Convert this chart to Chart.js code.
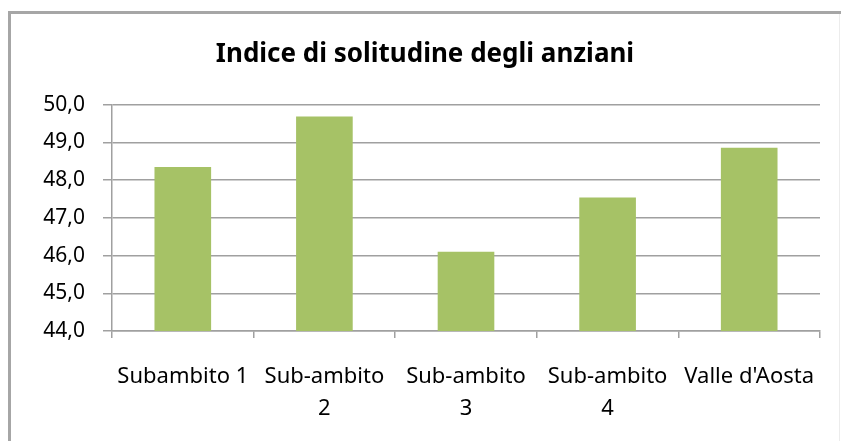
<!DOCTYPE html>
<html>
<head>
<meta charset="utf-8">
<script src="https://cdn.jsdelivr.net/npm/chart.js@4"></script>
<style>
  html, body { margin: 0; padding: 0; background: #fff; }
  #wrap { width: 841px; height: 441px; position: relative; }
</style>
</head>
<body>
<div id="wrap"><canvas id="chart" width="841" height="441"></canvas></div>
<script>
/* ---------------------------
    DATA
------------------------------ */
const categories = [
  "Subambito 1",
  ["Sub-ambito", "2"],
  ["Sub-ambito", "3"],
  ["Sub-ambito", "4"],
  "Valle d'Aosta"
];
const values = [48.35, 49.69, 46.1, 47.54, 48.86];
const yTicks = [44, 45, 46, 47, 48, 49, 50];

const FONT = "'Noto Sans', sans-serif";

/* ---------------------------
    FRAME (bordo grigio)
------------------------------ */
const framePlugin = {
  id: "frame",
  beforeDraw(chart) {
    const ctx = chart.ctx;
    ctx.save();
    ctx.fillStyle = "#ffffff";
    ctx.fillRect(0, 0, chart.width, chart.height);
    ctx.strokeStyle = "#a6a6a6";
    ctx.lineWidth = 3;
    ctx.beginPath();
    ctx.moveTo(9.5, chart.height);
    ctx.lineTo(9.5, 12.5);
    ctx.lineTo(chart.width, 12.5);
    ctx.stroke();
    ctx.strokeStyle = "#ececec";
    ctx.lineWidth = 1;
    ctx.beginPath();
    ctx.moveTo(839.5, 14);
    ctx.lineTo(839.5, chart.height);
    ctx.stroke();
    ctx.restore();
  }
};

new Chart(document.getElementById("chart"), {
  type: "bar",
  data: {
    labels: categories,
    datasets: [{
      label: "Indice di solitudine degli anziani",
      data: values,
      backgroundColor: "#a6c266",
      barPercentage: 0.4,
      categoryPercentage: 1.0
    }]
  },
  options: {
    responsive: false,
    animation: false,
    layout: { padding: { top: 14, left: 30, right: 21, bottom: 0 } },
    plugins: {
      legend: { display: false },
      tooltip: { enabled: false },
      title: {
        display: true,
        text: "Indice di solitudine degli anziani",
        color: "#000",
        font: { family: FONT, size: 26, weight: "bold", lineHeight: 1.2 },
        padding: { top: 25, bottom: 34.5 }
      }
    },
    scales: {
      x: {
        grid: {
          display: true,
          offset: true,
          drawOnChartArea: false,
          tickLength: 7,
          color: "#a0a0a0",
          lineWidth: 1.5
        },
        border: { color: "#a0a0a0", width: 1.5 },
        ticks: {
          color: "#000",
          font: { family: FONT, size: 22, lineHeight: 32 / 22 },
          padding: 23,
          maxRotation: 0,
          autoSkip: false
        },
        afterFit(scale) { scale.height = 110; }
      },
      y: {
        min: yTicks[0],
        max: yTicks[yTicks.length - 1],
        afterBuildTicks(scale) { scale.ticks = yTicks.map(v => ({ value: v })); },
        grid: { color: "#a0a0a0", lineWidth: 1.5, tickLength: 9 },
        border: { color: "#a0a0a0", width: 1.5 },
        ticks: {
          color: "#000",
          font: { family: FONT, size: 21 },
          padding: 18,
          callback: v => v.toFixed(1).replace(".", ",")
        },
        afterFit(scale) { scale.width = 82; }
      }
    }
  },
  plugins: [framePlugin]
});
</script>
</body>
</html>
